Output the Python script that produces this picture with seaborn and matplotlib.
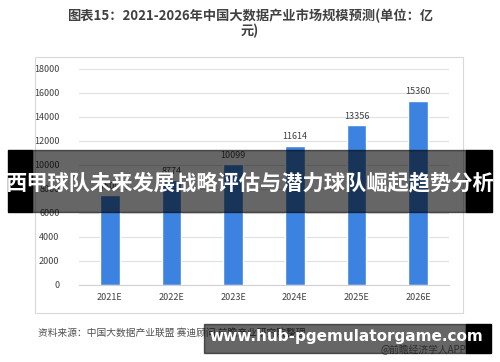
import matplotlib.pyplot as plt
import matplotlib.patches as mpatches
import seaborn as sns
import pandas as pd

years = ["2021E", "2022E", "2023E", "2024E", "2025E", "2026E"]
market = [7500, 8774, 10099, 11614, 13356, 15360]
value_labels = ["7500", "8774", "10099", "11614", "13356", "15360"]
yticks = [0, 2000, 4000, 6000, 8000, 10000, 12000, 14000, 16000, 18000]

title = "图表15：2021-2026年中国大数据产业市场规模预测(单位：亿\n元)"
source = "资料来源：中国大数据产业联盟 赛迪顾问 前瞻产业研究院整理"
credit = "@前瞻经济学人APP"
banner = "西甲球队未来发展战略评估与潜力球队崛起趋势分析"
site = "www.hub-pgemulatorgame.com"

sns.set_style("white")
plt.rcParams['font.family'] = ['Noto Sans CJK SC', 'DejaVu Sans']

df = pd.DataFrame({"year": years, "value": market})

fig = plt.figure(figsize=(5, 3.62), dpi=100)
W, H = 500, 362

def fx(x):
    return x / W

def fy(y):
    return 1 - y / H

# chart frame
fig.patches.append(mpatches.Rectangle((fx(35), fy(313)), fx(428), 256 / H,
                                      transform=fig.transFigure, fill=False,
                                      edgecolor="#d9d9d9", linewidth=0.8, zorder=0))

ax = fig.add_axes([fx(79), fy(285), fx(449 - 79), (285 - 69) / H])
sns.barplot(data=df, x="year", y="value", color="#3c82e0", width=0.32,
            saturation=1, ax=ax, zorder=2)
ax.set_ylim(0, 18000)
ax.set_xlim(-0.5, 5.5)
ax.set_yticks(yticks)
ax.set_yticklabels([str(t) for t in yticks], fontsize=6.5, color="#404040")
ax.tick_params(axis="x", labelsize=6.5, labelcolor="#404040", length=0, pad=6)
ax.tick_params(axis="y", length=0, pad=14)
ax.set_xlabel("")
ax.set_ylabel("")
ax.grid(axis="y", color="#e0e0e0", linewidth=0.8, zorder=0)
for s in ["top", "right", "left"]:
    ax.spines[s].set_visible(False)
ax.spines["bottom"].set_color("#d0d0d0")
for i, v in enumerate(market):
    ax.text(i, v + 350, value_labels[i], ha="center", va="bottom",
            fontsize=6.5, color="#404040")

fig.text(0.5, fy(23), title, ha="center", va="center", fontsize=9.5,
         fontweight="bold", color="#404040", linespacing=1.05)
fig.text(fx(38), fy(333), source, ha="left", va="center", fontsize=7, color="#505050")
fig.text(fx(466), fy(350), credit, ha="right", va="center", fontsize=7, color="#707070")

# banner overlay
fig.patches.append(mpatches.Rectangle((fx(8), fy(212)), fx(24), 62 / H,
                                      transform=fig.transFigure, color="black", zorder=5))
fig.patches.append(mpatches.Rectangle((fx(466), fy(212)), fx(26), 62 / H,
                                      transform=fig.transFigure, color="black", zorder=5))
fig.patches.append(mpatches.Rectangle((fx(32), fy(212)), fx(434), 62 / H,
                                      transform=fig.transFigure, color="black",
                                      alpha=0.6, zorder=5))
fig.text(0.5, fy(183), banner, ha="center", va="center", fontsize=15.3,
         fontweight="bold", color="white", zorder=6)

# site overlay
fig.patches.append(mpatches.Rectangle((fx(204), fy(353)), fx(262), 29 / H,
                                      transform=fig.transFigure, color="black",
                                      alpha=0.6, zorder=5))
fig.patches.append(mpatches.Rectangle((fx(466), fy(353)), fx(25), 29 / H,
                                      transform=fig.transFigure, color="black", zorder=5))
fig.text(fx(346), fy(337), site, ha="center", va="center", fontsize=11,
         fontweight="bold", color="white", family=["DejaVu Sans"], zorder=6)

fig.savefig("out.png", dpi=100)
